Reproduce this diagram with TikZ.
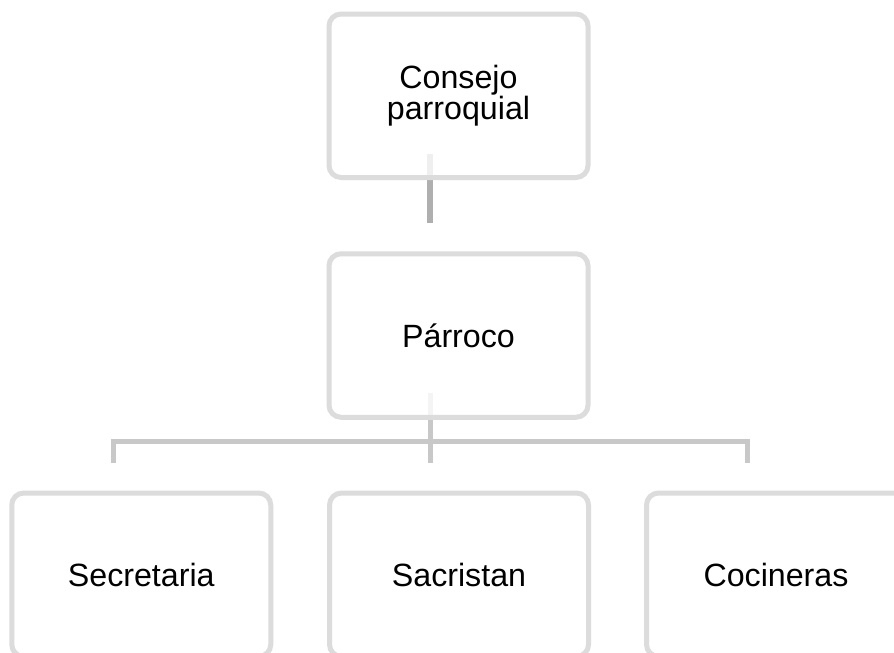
\documentclass[tikz,border=0pt]{standalone}
\usepackage{fontspec}
\setmainfont{Liberation Sans}
\begin{document}
\begin{tikzpicture}[x=1pt,y=-1pt,
  orgbox/.style={draw=boxgray, line width=5pt, rounded corners=12pt,
    fill=white, fill opacity=0.8, text opacity=1, text=black,
    minimum width=259pt, minimum height=163.5pt, inner sep=0pt, outer sep=0pt,
    align=center, font=\fontsize{32.2}{31.5}\selectfont},
  darkline/.style={draw=topline, line width=6pt},
  lightline/.style={draw=midline, line width=5pt, line join=miter}]
\definecolor{boxgray}{HTML}{DCDCDC}
\definecolor{topline}{HTML}{AFAFAF}
\definecolor{midline}{HTML}{C8C8C8}
\clip (0,0) rectangle (894,653);
\fill[white] (0,0) rectangle (894,653);
% connectors (drawn under the boxes)
\coordinate (t1) at (430,154);
\coordinate (t2) at (430,223);
\coordinate (m1) at (430,393);
\coordinate (m2) at (430,463);
\coordinate (hl) at (113,441.7);
\coordinate (hr) at (747,441.7);
\coordinate (l2) at (113,463);
\coordinate (r2) at (747,463);
\draw[darkline] (t1) -- (t2);
\draw[lightline] (m1) -- (m2);
\draw[lightline] (l2) -- (hl) -- (hr) -- (r2);
% boxes
\node[orgbox] (consejo) at (458.5,95.75) {Consejo\\parroquial};
\node[orgbox] (parroco) at (458.5,335.5) {Párroco};
\node[orgbox] (secretaria) at (141.25,574.75) {Secretaria};
\node[orgbox] (sacristan) at (459,574.75) {Sacristan};
\node[orgbox] (cocineras) at (776,574.75) {Cocineras};
\end{tikzpicture}
\end{document}
